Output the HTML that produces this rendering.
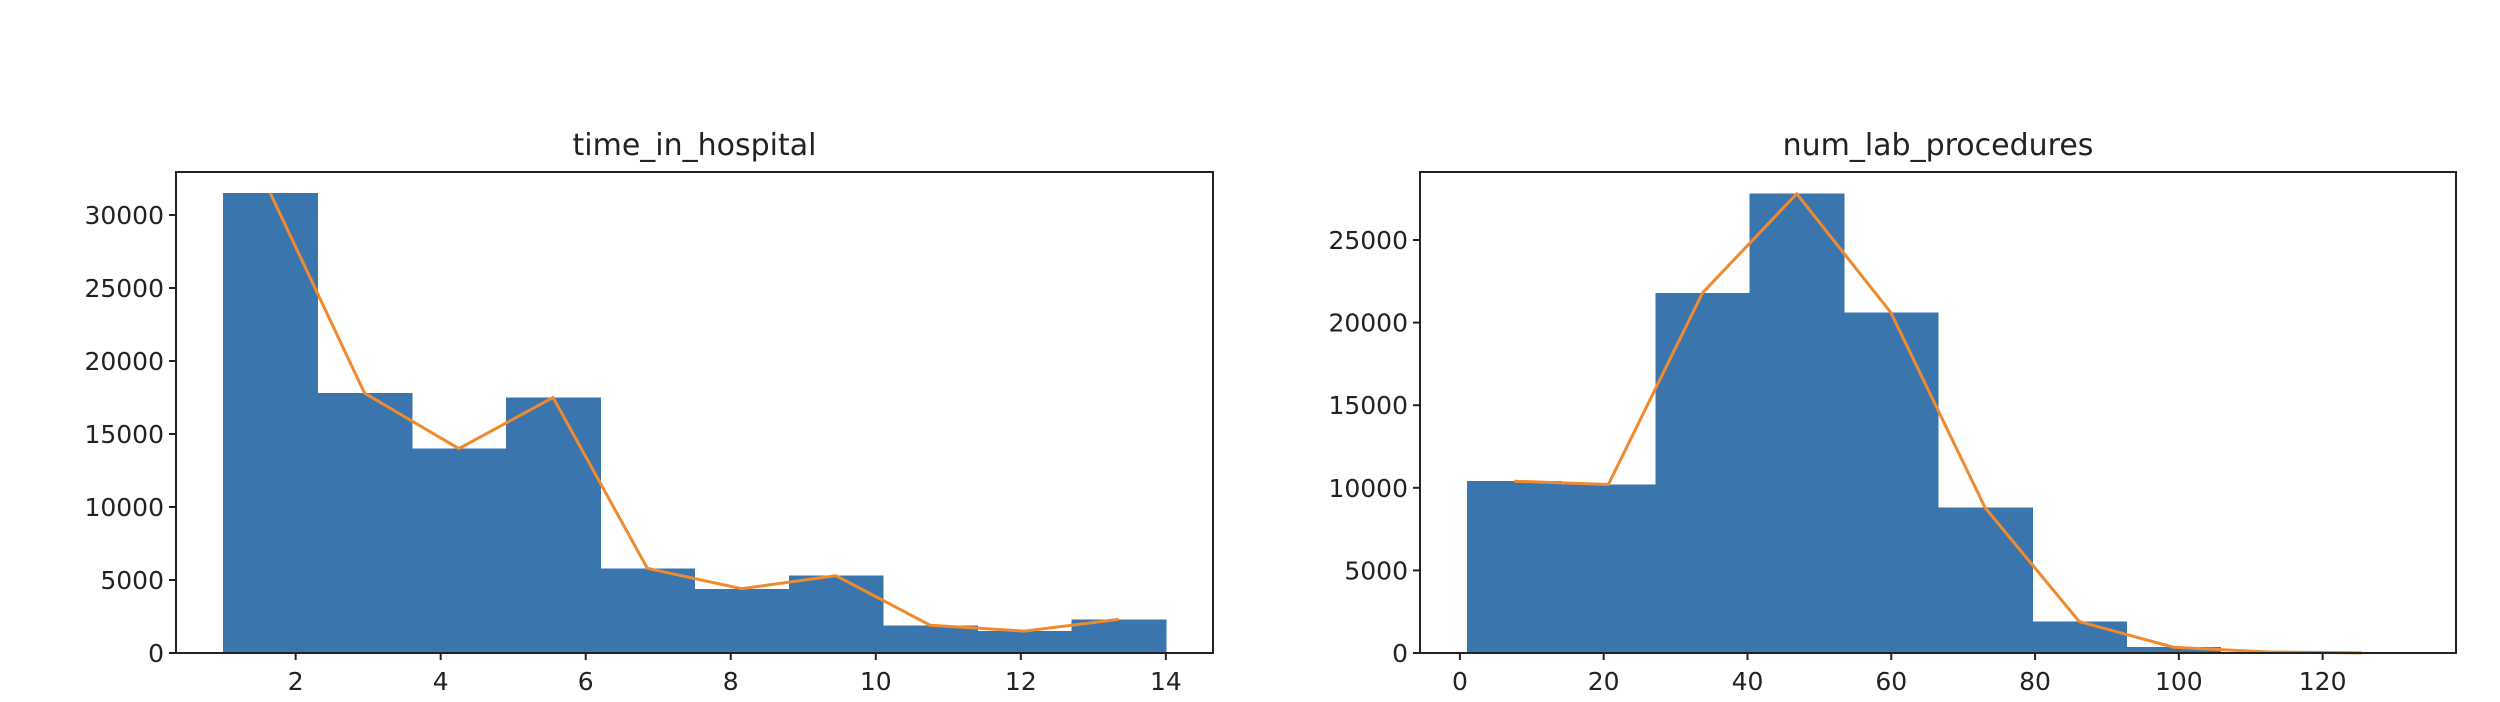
<!DOCTYPE html>
<html><head><meta charset="utf-8">
<style>
html,body{margin:0;padding:0;background:#fff;}
svg{display:block;}
text{font-family:"DejaVu Sans","Liberation Sans",sans-serif;fill:#222;}
</style></head>
<body>
<svg id="fig" width="2500" height="702" xmlns="http://www.w3.org/2000/svg"></svg>
<script>
// time_in_hospital histogram
const thBinEdgesStart = 1, thBinEdgesEnd = 14;
const thCounts = [31500, 17800, 14000, 17500, 5800, 4400, 5300, 1900, 1500, 2300];
const thXTicks = [2, 4, 6, 8, 10, 12, 14];
const thYTicks = [0, 5000, 10000, 15000, 20000, 25000, 30000];
// num_lab_procedures histogram
const nlBinEdgesStart = 1, nlBinEdgesEnd = 132;
const nlCounts = [10400, 10200, 21800, 27800, 20600, 8800, 1900, 350, 60, 10];
const nlXTicks = [0, 20, 40, 60, 80, 100, 120];
const nlYTicks = [0, 5000, 10000, 15000, 20000, 25000];

const NS = "http://www.w3.org/2000/svg";
const svg = document.getElementById('fig');
function mk(tag, attrs, parent){
  const e = document.createElementNS(NS, tag);
  for (const k in attrs) e.setAttribute(k, attrs[k]);
  (parent||svg).appendChild(e);
  return e;
}

function drawHist(cfg){
  const {left,right,top,bottom,lo,hi,counts,xTicks,yTicks,yMax,title,prefix} = cfg;
  const g = mk('g', {});
  
  
  const span = hi - lo, margin = span*0.05;
  const xmin = lo - margin, xmax = hi + margin;
  const xs = v => left + (v - xmin)/(xmax - xmin)*(right-left);
  const ys = v => bottom - v/yMax*(bottom-top);
  const n = counts.length, w = span/n;
  counts.forEach((c,i)=>{
    const x0 = xs(lo + i*w), x1 = xs(lo + (i+1)*w);
    const r = mk('rect', {x:x0, y:ys(c), width:x1-x0+0.6, height:bottom-ys(c), fill:'#3a75ae', 'shape-rendering':'crispEdges'}, g);
    
    
  });
  const pts = counts.map((c,i)=> xs(lo + (i+0.5)*w) + ',' + ys(c)).join(' ');
  const pl = mk('polyline', {points:pts, fill:'none', stroke:'#f08a2e', 'stroke-width':3}, g);
  
  
  const frame = mk('rect', {x:left, y:top, width:right-left, height:bottom-top, fill:'none', stroke:'#222', 'stroke-width':2}, g);
  
  
  xTicks.forEach(t=>{
    const x = xs(t);
    mk('line', {x1:x, x2:x, y1:bottom, y2:bottom+7, stroke:'#222', 'stroke-width':2}, g);
    const tx = mk('text', {x:x, y:bottom+37, 'text-anchor':'middle', 'font-size':25}, g);
    tx.textContent = t;
    
    
  });
  yTicks.forEach(t=>{
    const y = ys(t);
    mk('line', {x1:left-7, x2:left, y1:y, y2:y, stroke:'#222', 'stroke-width':2}, g);
    const tx = mk('text', {x:left-12, y:y+9, 'text-anchor':'end', 'font-size':25}, g);
    tx.textContent = t;
    
    
  });
  const tt = mk('text', {x:(left+right)/2, y:155, 'text-anchor':'middle', 'font-size':30}, g);
  tt.textContent = title;
  
  
}

drawHist({left:176,right:1213,top:172,bottom:653,lo:thBinEdgesStart,hi:thBinEdgesEnd,
  counts:thCounts,xTicks:thXTicks,yTicks:thYTicks,yMax:(653-172)/0.0146,title:'time_in_hospital',prefix:'time-in-hospital'});
drawHist({left:1420,right:2456,top:172,bottom:653,lo:nlBinEdgesStart,hi:nlBinEdgesEnd,
  counts:nlCounts,xTicks:nlXTicks,yTicks:nlYTicks,yMax:(653-172)/0.01652,title:'num_lab_procedures',prefix:'num-lab-procedures'});
</script>
</body></html>
